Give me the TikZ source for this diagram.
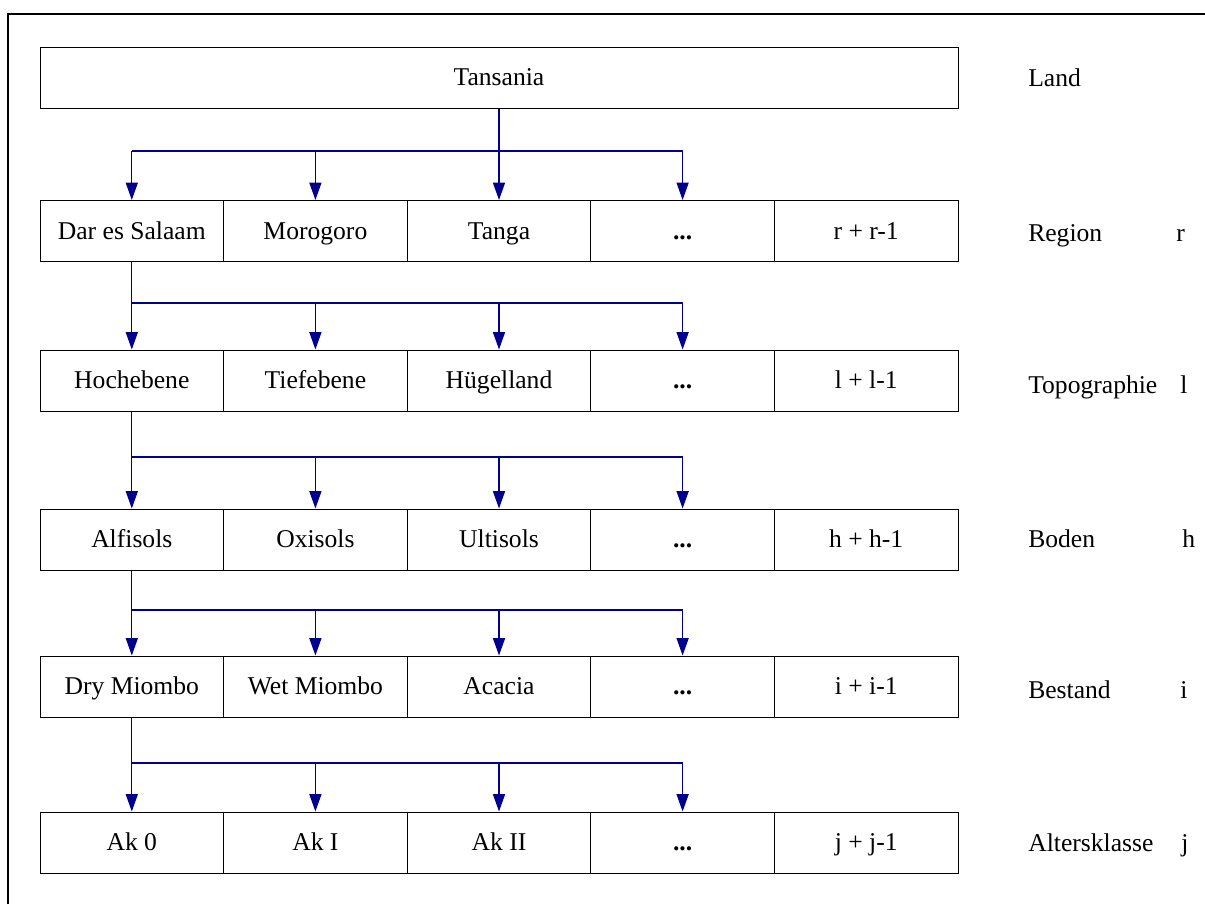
\documentclass[tikz,border=0pt]{standalone}
\usepackage{fontspec}
\setmainfont{Liberation Serif}
\usetikzlibrary{arrows.meta}
\definecolor{arrowblue}{RGB}{0,0,140}
\begin{document}
\begin{tikzpicture}[x=0.75pt,y=-0.75pt,
  txt/.style={font=\fontsize{19.2}{23}\selectfont},
  cell/.style={txt, draw=black, line width=0.75pt, minimum width=137.7pt,
    minimum height=45.75pt, inner sep=0pt, text height=15pt, text depth=2.7pt, anchor=center},
  wide/.style={cell, minimum width=688.5pt},
  lab/.style={txt, anchor=base west, inner sep=0pt},
  conn/.style={draw=arrowblue, line width=1pt},
  arr/.style={conn, -{Triangle[length=13pt,width=9pt]}}
]
\useasboundingbox (0,0) rectangle (1205,904);
\draw[line width=1.5pt] (8,904) -- (8,14) -- (1205,14);

% top box
\node[wide] (T) at (499,77.5) {Tansania};

% row 1
\node[cell] (r1a) at (131.8,231) {Dar es Salaam};
\node[cell] (r1b) at (315.4,231) {Morogoro};
\node[cell] (r1c) at (499,231) {Tanga};
\node[cell] (r1d) at (682.6,231) {\textbf{...}};
\node[cell] (r1e) at (866.2,231) {r + r-1};

% row 2
\node[cell] (r2a) at (131.8,380.5) {Hochebene};
\node[cell] (r2b) at (315.4,380.5) {Tiefebene};
\node[cell] (r2c) at (499,380.5) {Hügelland};
\node[cell] (r2d) at (682.6,380.5) {\textbf{...}};
\node[cell] (r2e) at (866.2,380.5) {l + l-1};

% row 3
\node[cell] (r3a) at (131.8,539.5) {Alfisols};
\node[cell] (r3b) at (315.4,539.5) {Oxisols};
\node[cell] (r3c) at (499,539.5) {Ultisols};
\node[cell] (r3d) at (682.6,539.5) {\textbf{...}};
\node[cell] (r3e) at (866.2,539.5) {h + h-1};

% row 4
\node[cell] (r4a) at (131.8,686.5) {Dry Miombo};
\node[cell] (r4b) at (315.4,686.5) {Wet Miombo};
\node[cell] (r4c) at (499,686.5) {Acacia};
\node[cell] (r4d) at (682.6,686.5) {\textbf{...}};
\node[cell] (r4e) at (866.2,686.5) {i + i-1};

% row 5
\node[cell] (r5a) at (131.8,842.5) {Ak 0};
\node[cell] (r5b) at (315.4,842.5) {Ak I};
\node[cell] (r5c) at (499,842.5) {Ak II};
\node[cell] (r5d) at (682.6,842.5) {\textbf{...}};
\node[cell] (r5e) at (866.2,842.5) {j + j-1};

% right labels
\node[lab] (lLand) at (1028,86) {Land};
\node[lab] (lReg) at (1028,241) {Region};
\node[lab] (lTop) at (1028,393) {Topographie};
\node[lab] (lBod) at (1028,547) {Boden};
\node[lab] (lBes) at (1028,698) {Bestand};
\node[lab] (lAlt) at (1028,851) {Altersklasse};
\node[lab] (vr) at (1176,241) {r};
\node[lab] (vl) at (1180,393) {l};
\node[lab] (vh) at (1182,547) {h};
\node[lab] (vi) at (1180,698) {i};
\node[lab] (vj) at (1181,851) {j};

% connectors
\coordinate (h0) at (499,151);
\coordinate (h1) at (0,303);
\coordinate (h2) at (0,457);
\coordinate (h3) at (0,610);
\coordinate (h4) at (0,763);

\draw[conn] (T.south) -- (h0);
\draw[conn] (r1a.north |- h0) -- (r1d.north |- h0);
\foreach \c in {a,b,c,d} \draw[arr] (r1\c.north |- h0) -- (r1\c.north);

\draw[conn] (r1a.south) -- (r1a.south |- h1) -- (r2d.north |- h1);
\foreach \c in {a,b,c,d} \draw[arr] (r2\c.north |- h1) -- (r2\c.north);

\draw[conn] (r2a.south) -- (r2a.south |- h2) -- (r3d.north |- h2);
\foreach \c in {a,b,c,d} \draw[arr] (r3\c.north |- h2) -- (r3\c.north);

\draw[conn] (r3a.south) -- (r3a.south |- h3) -- (r4d.north |- h3);
\foreach \c in {a,b,c,d} \draw[arr] (r4\c.north |- h3) -- (r4\c.north);

\draw[conn] (r4a.south) -- (r4a.south |- h4) -- (r5d.north |- h4);
\foreach \c in {a,b,c,d} \draw[arr] (r5\c.north |- h4) -- (r5\c.north);
\end{tikzpicture}
\end{document}
